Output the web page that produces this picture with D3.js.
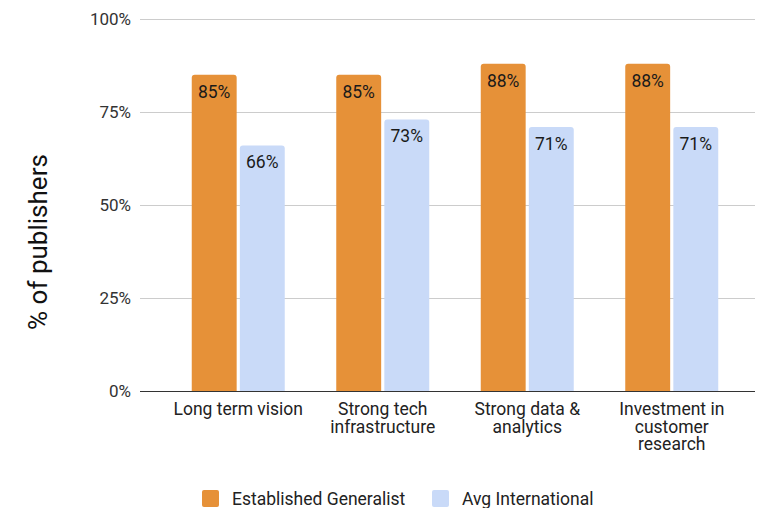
<!DOCTYPE html>
<html>
<head>
<meta charset="utf-8">
<script src="https://cdn.jsdelivr.net/npm/d3@7"></script>
<style>
  html, body { margin: 0; padding: 0; background: #fff; }
  svg { display: block; font-family: Roboto, "Noto Sans", sans-serif; }
</style>
</head>
<body>
<svg id="chart" width="769" height="508"></svg>
<script>
// Categories and series values (percent of publishers)
const categories = [
  ["Long term vision"],
  ["Strong tech", "infrastructure"],
  ["Strong data &", "analytics"],
  ["Investment in", "customer", "research"]
];
const seriesNames = ["Established Generalist", "Avg International"];
const establishedGeneralist = [85, 85, 88, 88];
const avgInternational = [66, 73, 71, 71];
const yTicks = [0, 25, 50, 75, 100];
const colors = ["#e69138", "#c9daf8"];

const svg = d3.select("#chart");
const gridLeft = 140, gridRight = 755;
const y = d3.scaleLinear().domain([0, 100]).range([391, 19]);
const x0 = d3.scaleBand().domain(d3.range(categories.length)).range([166, 744]).paddingInner(0).paddingOuter(0);
const x1 = d3.scaleBand().domain([0, 1]).range([x0.bandwidth() / 2 - 46.5, x0.bandwidth() / 2 + 46.5]).paddingInner(0.066);

// Gridlines and y tick labels
const yAxis = d3.axisLeft(y).tickValues(yTicks).tickFormat(d => d + "%").tickSize(-(gridRight - gridLeft)).tickPadding(9);
const ga = svg.append("g").attr("transform", `translate(${gridLeft},0)`).call(yAxis);
ga.select(".domain").remove();
ga.selectAll(".tick line").attr("stroke", "#cccccc").attr("stroke-width", 1);
ga.selectAll(".tick text").attr("fill", "#333").style("font-size", "17px").style("font-family", "Roboto, sans-serif");

// Bars
const series = [establishedGeneralist, avgInternational];
const groups = svg.append("g").selectAll("g")
  .data(categories.map((c, i) => i))
  .join("g")
  .attr("transform", i => `translate(${x0(i)},0)`);

groups.each(function(i) {
  const g = d3.select(this);
  series.forEach((vals, s) => {
    const v = vals[i];
    const bx = x1(s), bw = x1.bandwidth();
    const top = y(v), bottom = y(0);
    const r = 3;
    // bar with rounded top corners
    g.append("path")
      .attr("d", `M${bx},${bottom} V${top + r} Q${bx},${top} ${bx + r},${top} H${bx + bw - r} Q${bx + bw},${top} ${bx + bw},${top + r} V${bottom} Z`)
      .attr("fill", colors[s]);
    g.append("text")
      .attr("x", bx + bw / 2)
      .attr("y", top + 23)
      .attr("text-anchor", "middle")
      .attr("fill", "#1a1a1a")
      .style("font-size", "17.5px")
      .text(v + "%");
  });
});

// Baseline
svg.append("line")
  .attr("x1", gridLeft).attr("x2", gridRight)
  .attr("y1", y(0) + 0.5).attr("y2", y(0) + 0.5)
  .attr("stroke", "#333").attr("stroke-width", 1.2);

// Category labels
const catText = svg.append("g").selectAll("text")
  .data(categories)
  .join("text")
  .attr("text-anchor", "middle")
  .attr("fill", "#222")
  .style("font-size", "17.5px")
  .attr("transform", (d, i) => `translate(${x0(i) + x0.bandwidth() / 2},415)`);
catText.selectAll("tspan")
  .data(d => d)
  .join("tspan")
  .attr("x", 0)
  .attr("dy", (d, j) => j === 0 ? 0 : 17.5)
  .text(d => d);

// Y axis title
svg.append("text")
  .attr("transform", "translate(47,242) rotate(-90)")
  .attr("text-anchor", "middle")
  .attr("fill", "#111")
  .style("font-size", "26px")
  .text("% of publishers");

// Legend
const legendItems = [
  { name: seriesNames[0], x: 202, color: colors[0] },
  { name: seriesNames[1], x: 432, color: colors[1] }
];
const lg = svg.append("g").selectAll("g").data(legendItems).join("g")
  .attr("transform", d => `translate(${d.x},490)`);
lg.append("rect").attr("width", 17).attr("height", 17).attr("rx", 2).attr("fill", d => d.color);
lg.append("text").attr("x", 30).attr("y", 15).attr("fill", "#222").style("font-size", "17.5px").text(d => d.name);
</script>
</body>
</html>
